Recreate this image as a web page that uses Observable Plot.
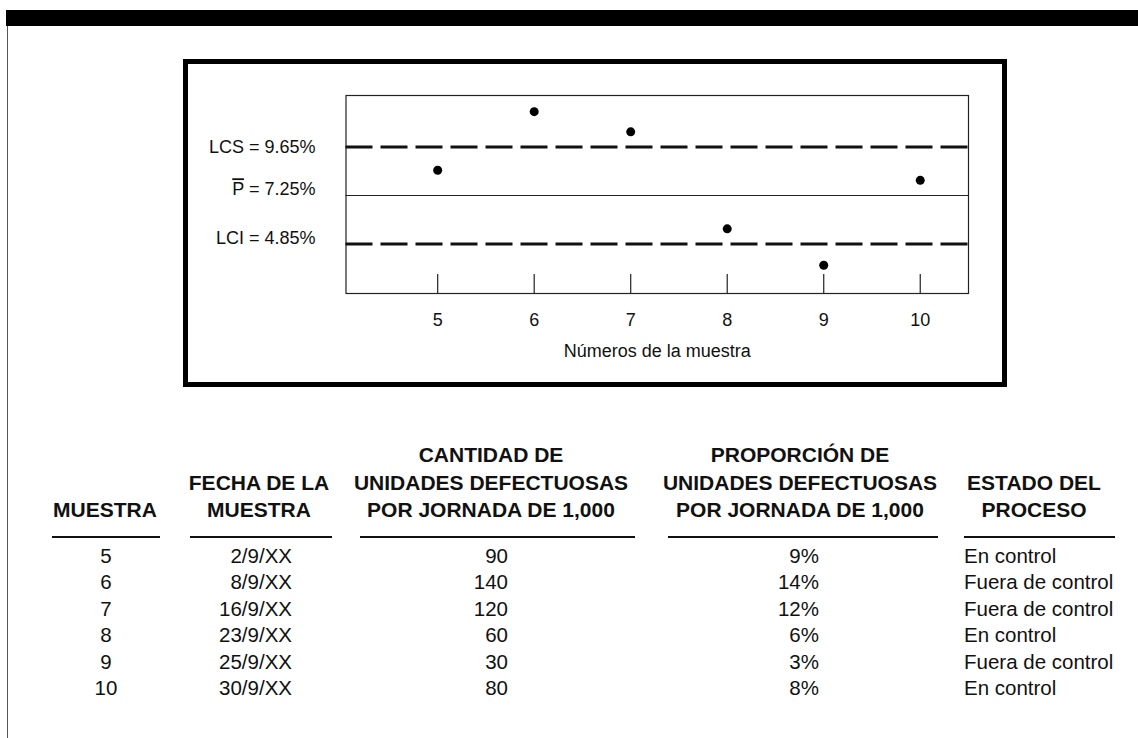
<!DOCTYPE html>
<html>
<head>
<meta charset="utf-8">
<script src="https://cdn.jsdelivr.net/npm/d3@7"></script>
<script src="https://cdn.jsdelivr.net/npm/@observablehq/plot@0.6"></script>
<style>
html,body{margin:0;padding:0;background:#fff;}
#page{position:relative;width:1138px;height:738px;overflow:hidden;font-family:"Liberation Sans",Arial,Helvetica,sans-serif;color:#111;}
.abs{position:absolute;}
#topbar{left:6px;top:10px;width:1132px;height:16px;background:#000;}
#leftline{left:6.5px;top:26px;width:1.5px;height:712px;background:#555;}
#box{left:183px;top:59px;width:824px;height:328px;border:5px solid #000;box-sizing:border-box;}
#chart{left:0;top:0;}
.hdr{font-weight:bold;font-size:21px;line-height:27.5px;white-space:nowrap;}
.cell{font-size:20.5px;line-height:26.5px;white-space:nowrap;}
.rule{height:1.5px;background:#111;}
</style>
</head>
<body>
<div id="page">
  <div id="topbar" class="abs"></div>
  <div id="leftline" class="abs"></div>
  <div id="box" class="abs"></div>
  <div id="chart" class="abs"></div>
</div>
<script>
// ---- data ----
const muestras = [5, 6, 7, 8, 9, 10];
const puntos = [8.5, 11.4, 10.4, 5.6, 3.8, 8.0]; // positions of the dots as drawn in the chart (%)
const limiteNombres = ["LCS", "P\u0304", "LCI"];
const limiteValores = [9.65, 7.25, 4.85];
const ejeLabel = "Números de la muestra";

const fechas = ["2/9/XX", "8/9/XX", "16/9/XX", "23/9/XX", "25/9/XX", "30/9/XX"];
const cantidades = [90, 140, 120, 60, 30, 80];
const proporciones = [9, 14, 12, 6, 3, 8];
const estados = ["En control", "Fuera de control", "Fuera de control", "En control", "Fuera de control", "En control"];

const encMuestra = ["MUESTRA"];
const encFecha = ["FECHA DE LA", "MUESTRA"];
const encCantidad = ["CANTIDAD DE", "UNIDADES DEFECTUOSAS", "POR JORNADA DE 1,000"];
const encProporcion = ["PROPORCIÓN DE", "UNIDADES DEFECTUOSAS", "POR JORNADA DE 1,000"];
const encEstado = ["ESTADO DEL", "PROCESO"];

// ---- chart ----
const pts = muestras.map((m, i) => ({m, v: puntos[i]}));
const limites = limiteNombres.map((n, i) => ({n, v: limiteValores[i], label: `${n} = ${limiteValores[i]}%`}));

const chart = Plot.plot({
  width: 1138,
  height: 400,
  marginLeft: 345.5,
  marginRight: 170,
  marginTop: 95,
  marginBottom: 107,
  style: {fontFamily: "'Liberation Sans', Arial, Helvetica, sans-serif", fontSize: "18px", background: "transparent", color: "#111"},
  x: {domain: [4.05, 10.5]},
  y: {domain: [2.4, 12.2], axis: null},
  marks: [
    Plot.frame({stroke: "#222", strokeWidth: 1.2}),
    Plot.ruleY(limites.filter(d => d.n !== limiteNombres[1]), {y: "v", stroke: "#111", strokeWidth: 2.8, strokeDasharray: "27,8"}),
    Plot.ruleY(limites.filter(d => d.n === limiteNombres[1]), {y: "v", stroke: "#222", strokeWidth: 1.2}),
    Plot.tickX(muestras, {x: d => d, stroke: "#222", strokeWidth: 1.2, insetTop: 179}),
    Plot.axisX({ticks: muestras, tickSize: 0, tickPadding: 20, tickFormat: d => String(d), label: null, fill: "#111"}),
    Plot.text([ejeLabel], {text: d => d, frameAnchor: "bottom", dy: 63, fill: "#111"}),
    Plot.text(limites.filter(d => d.n === limiteNombres[0]), {y: "v", text: "label", frameAnchor: "left", dx: -30.5, textAnchor: "end", fill: "#111"}),
    Plot.text(limites.filter(d => d.n !== limiteNombres[0]), {y: "v", text: "label", frameAnchor: "left", dx: -30.5, dy: -6, textAnchor: "end", fill: "#111"}),
    Plot.dot(pts, {x: "m", y: "v", r: 4.5, fill: "#000", stroke: null})
  ]
});
// draw the bar over P as an overline on the letter itself
const SVGNS = "http://www.w3.org/2000/svg";
chart.querySelectorAll("text").forEach(t => {
  const s = t.textContent;
  if (s.startsWith("P\u0304")) {
    t.textContent = "";
    const a = document.createElementNS(SVGNS, "tspan");
    a.textContent = "P";
    a.setAttribute("style", "text-decoration: overline; text-decoration-thickness: 1.3px;");
    const b = document.createElementNS(SVGNS, "tspan");
    b.textContent = s.slice(2);
    t.appendChild(a);
    t.appendChild(b);
  }
});
document.getElementById("chart").appendChild(chart);

// ---- table ----
const page = document.getElementById("page");
const cols = [
  {head: encMuestra, center: 105, ul: [52, 160], align: "center", anchor: 106, vals: muestras.map(String)},
  {head: encFecha, center: 259, ul: [190, 332], align: "right", anchor: 292, vals: fechas},
  {head: encCantidad, center: 491, ul: [360, 635], align: "right", anchor: 508, vals: cantidades.map(String)},
  {head: encProporcion, center: 800, ul: [668, 938], align: "right", anchor: 819, vals: proporciones.map(p => p + "%")},
  {head: encEstado, center: 1034, ul: [964, 1115], align: "left", anchor: 964, vals: estados}
];
const hdrBottom = 523.75, hdrLH = 27.5, ulY = 536, rowTop = 542.75;

function add(cls, text, styles) {
  const d = document.createElement("div");
  d.className = "abs " + cls;
  if (text != null) d.textContent = text;
  Object.assign(d.style, styles);
  page.appendChild(d);
  return d;
}
for (const c of cols) {
  add("hdr", null, {
    left: (c.center - 200) + "px", width: "400px", textAlign: "center",
    top: (hdrBottom - c.head.length * hdrLH) + "px"
  }).innerHTML = c.head.join("<br>");
  add("rule", null, {left: c.ul[0] + "px", width: (c.ul[1] - c.ul[0]) + "px", top: ulY + "px"});
  const style = {top: rowTop + "px"};
  if (c.align === "center") Object.assign(style, {left: (c.anchor - 100) + "px", width: "200px", textAlign: "center"});
  else if (c.align === "right") Object.assign(style, {left: (c.anchor - 250) + "px", width: "250px", textAlign: "right"});
  else Object.assign(style, {left: c.anchor + "px", textAlign: "left"});
  add("cell", null, style).innerHTML = c.vals.join("<br>");
}
</script>
</body>
</html>
